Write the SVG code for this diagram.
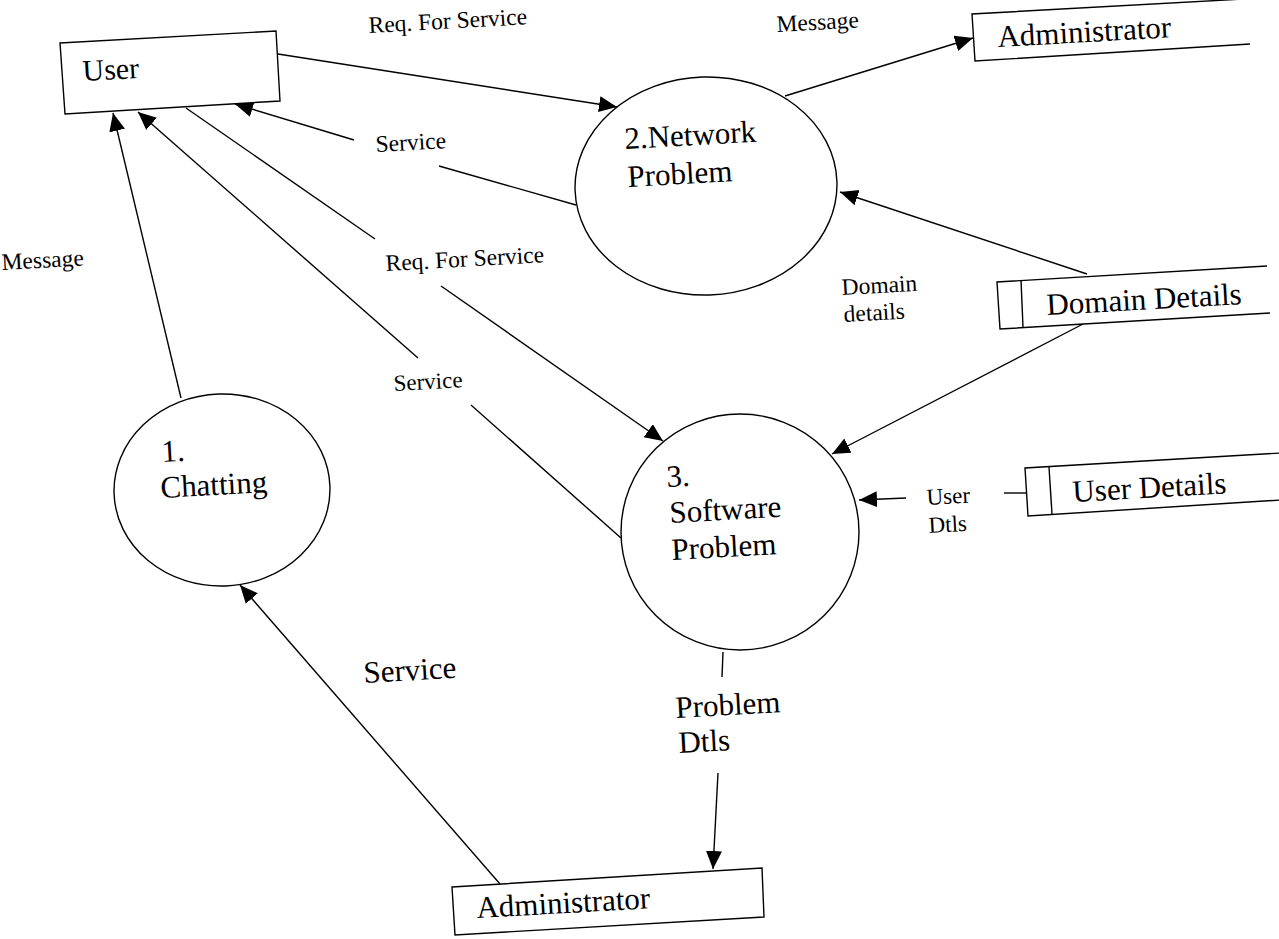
<svg xmlns="http://www.w3.org/2000/svg" width="1279" height="939" viewBox="0 0 1279 939">
  <style>
    .ln { fill: none; stroke: #000; stroke-width: 1.4; }
    .shape { fill: #fff; stroke: #000; stroke-width: 1.4; }
    .t { font-family: "Liberation Serif", "Times New Roman", serif; fill: #000; }
    .big { font-size: 31px; }
    .small { font-size: 23.5px; }
  </style>
  <defs>
    <marker id="arrow" markerUnits="userSpaceOnUse" markerWidth="20" markerHeight="18" refX="18" refY="8" orient="auto">
      <path d="M0,0 L18,8 L0,16 z" fill="#000"/>
    </marker>
  </defs>
  <rect width="1279" height="939" fill="#fff"/>

  <!-- data flows -->
  <g id="connectors">
    <!-- User -> 2.Network Problem : Req. For Service -->
    <line class="ln" x1="278" y1="54" x2="617" y2="107" marker-end="url(#arrow)"/>
    <!-- 2.Network Problem -> User : Service -->
    <line class="ln" x1="576" y1="205" x2="439" y2="166"/>
    <line class="ln" x1="354" y1="140" x2="235" y2="104" marker-end="url(#arrow)"/>
    <!-- User -> 3.Software Problem : Req. For Service -->
    <line class="ln" x1="186" y1="108" x2="375" y2="239"/>
    <line class="ln" x1="441" y1="286" x2="663" y2="441" marker-end="url(#arrow)"/>
    <!-- 3.Software Problem -> User : Service -->
    <line class="ln" x1="621" y1="538" x2="471" y2="405"/>
    <line class="ln" x1="418" y1="358" x2="138" y2="112" marker-end="url(#arrow)"/>
    <!-- 1.Chatting -> User : Message -->
    <line class="ln" x1="181" y1="398" x2="113" y2="113" marker-end="url(#arrow)"/>
    <!-- Administrator -> 1.Chatting : Service -->
    <line class="ln" x1="500" y1="884" x2="240" y2="585" marker-end="url(#arrow)"/>
    <!-- 2.Network Problem -> Administrator : Message -->
    <line class="ln" x1="785" y1="96" x2="973" y2="38" marker-end="url(#arrow)"/>
    <!-- Domain Details -> 2.Network Problem -->
    <line class="ln" x1="1087" y1="274" x2="840" y2="192" marker-end="url(#arrow)"/>
    <!-- Domain Details -> 3.Software Problem -->
    <line class="ln" x1="1083" y1="324" x2="832" y2="454" marker-end="url(#arrow)"/>
    <!-- User Details -> 3.Software Problem : User Dtls -->
    <line class="ln" x1="1026" y1="493" x2="1004" y2="493"/>
    <line class="ln" x1="906" y1="498" x2="859" y2="500" marker-end="url(#arrow)"/>
    <!-- 3.Software Problem -> Administrator : Problem Dtls -->
    <line class="ln" x1="723" y1="652" x2="722" y2="677"/>
    <line class="ln" x1="718" y1="773" x2="713" y2="869" marker-end="url(#arrow)"/>
  </g>

  <!-- flow labels -->
  <g id="flow-labels" class="t small">
    <text x="369" y="33" transform="rotate(-3.2 369 33)">Req. For Service</text>
    <text x="777" y="32" transform="rotate(-3.2 777 32)">Message</text>
    <text x="376" y="152" transform="rotate(-3.2 376 152)">Service</text>
    <text x="2" y="270" transform="rotate(-3.2 2 270)">Message</text>
    <text x="386" y="271" transform="rotate(-3.2 386 271)">Req. For Service</text>
    <text x="842" y="295" transform="rotate(-3.2 842 295)">Domain</text>
    <text x="844" y="322" transform="rotate(-3.2 844 322)">details</text>
    <text x="394" y="391" transform="rotate(-3.2 394 391)" style="font-size:23px">Service</text>
    <text x="927" y="505" transform="rotate(-3.2 927 505)" style="font-size:23px">User</text>
    <text x="929" y="533" transform="rotate(-3.2 929 533)" style="font-size:23px">Dtls</text>
    <text class="big" x="364" y="683" transform="rotate(-3.2 364 683)">Service</text>
    <text class="big" x="676" y="718" transform="rotate(-3.2 676 718)">Problem</text>
    <text class="big" x="679" y="753" transform="rotate(-3.2 679 753)">Dtls</text>
  </g>

  <!-- external entity: User -->
  <g id="user">
    <polygon class="shape" points="60,43 276,31 280,101 65,114"/>
    <text class="t" style="font-size:30px" x="83" y="81" transform="rotate(-3.2 83 81)">User</text>
  </g>

  <!-- external entity: Administrator (top) -->
  <g id="admin-top">
    <polyline class="ln" points="1262,-2 972,14 975,61 1250,44"/>
    <text class="t big" x="998" y="47" transform="rotate(-3.2 998 47)">Administrator</text>
  </g>

  <!-- process 2 -->
  <g id="network-problem">
    <ellipse class="shape" cx="706" cy="186" rx="131" ry="109" transform="rotate(-2 706 186)"/>
    <text class="t big" x="625" y="149" transform="rotate(-3.2 625 149)">2.Network</text>
    <text class="t big" x="628" y="187" transform="rotate(-3.2 628 187)">Problem</text>
  </g>

  <!-- data store: Domain Details -->
  <g id="domain-details">
    <polyline class="ln" points="1267,266 997,282 1000,329 1270,313"/>
    <line class="ln" x1="1021" y1="280" x2="1023" y2="327"/>
    <text class="t big" x="1047" y="315" transform="rotate(-3.2 1047 315)">Domain Details</text>
  </g>

  <!-- process 1 -->
  <g id="chatting">
    <ellipse class="shape" cx="222" cy="490" rx="108" ry="96" transform="rotate(-2 222 490)"/>
    <text class="t big" x="162" y="462" transform="rotate(-3.2 162 462)">1.</text>
    <text class="t big" x="161" y="498" transform="rotate(-3.2 161 498)">Chatting</text>
  </g>

  <!-- process 3 -->
  <g id="software-problem">
    <ellipse class="shape" cx="740" cy="532" rx="119" ry="118"/>
    <text class="t big" x="667" y="487" transform="rotate(-3.2 667 487)">3.</text>
    <text class="t big" x="670" y="523" transform="rotate(-3.2 670 523)">Software</text>
    <text class="t big" x="672" y="560" transform="rotate(-3.2 672 560)">Problem</text>
  </g>

  <!-- data store: User Details -->
  <g id="user-details">
    <polyline class="ln" points="1281,453 1025,468 1028,516 1281,500"/>
    <line class="ln" x1="1049" y1="467" x2="1052" y2="514"/>
    <text class="t big" x="1073" y="502" transform="rotate(-3.2 1073 502)">User Details</text>
  </g>

  <!-- external entity: Administrator (bottom) -->
  <g id="admin-bottom">
    <polygon class="shape" points="452,887 762,868 764,917 455,935"/>
    <text class="t big" x="477" y="918" transform="rotate(-3.2 477 918)">Administrator</text>
  </g>
</svg>
